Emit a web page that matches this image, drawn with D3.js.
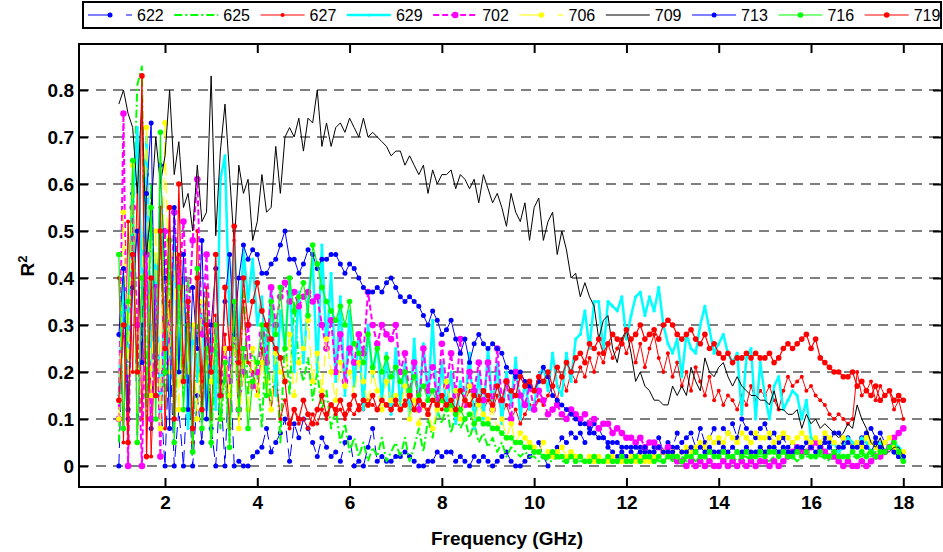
<!DOCTYPE html>
<html>
<head>
<meta charset="utf-8">
<script src="https://cdn.jsdelivr.net/npm/d3@7"></script>
<style>
body { margin: 0; background: #fff; }
svg { display: block; font-family: Arial, "Liberation Sans", sans-serif; }
</style>
</head>
<body>
<div id="chart-area"></div>
<script>
// Frequency sweep: 1.0 .. 18.0 GHz in 0.1 GHz steps
const FREQ_START = 1.0;
const FREQ_STEP = 0.1;

// R^2, in hundredths (one value per frequency step)
const s622 = [0,35,10,58,5,30,62,8,40,15, 0,28,0,12,0,20,0,15,5,30, 8,0,18,0,25,0,1,0,0,2,
  3,4,8,3,5,7,10,1,9,6, 10,8,5,2,6,4,2,3,1,5, 6,0,1,0,4,8,1,2,1,1, 2,2,3,2,1,0,0,1,1,3,
  2,3,3,1,2,1,0,2,1,2, 1,0,1,2,3,1,0,0,1,2, 3,5,2,0,2,4,6,5,7,6, 7,5,7,9,8,6,4,3,2,3,
  2,3,2,4,3,5,4,6,3,5, 4,7,5,6,7,4,8,5,6,8, 5,8,7,9,6,10,8,7,6,8, 9,6,7,5,6,4,5,4,3,5,
  4,5,3,6,5,7,7,5,6,4, 5,6,7,8,6,7,5,4,3,2, 2];
const s625 = [5,40,15,50,81,85,10,60,20,52, 12,45,8,35,15,40,5,30,10,38, 4,28,8,20,5,35,10,40,15,25,
  20,8,30,12,25,5,28,15,35,22, 18,23,14,20,12,16,8,12,5,9, 3,6,2,5,1,4,2,6,1,3, 5,2,6,1,4,8,3,10,6,12,
  9,13,7,11,8,10,6,9,5,7, 4,6,3,5,2,4,3,2,3,2, 2,1,2,1,1,2,1,1,2,1, 1,1,2,1,1,1,2,1,1,1,
  1,2,1,1,2,1,2,1,1,2, 1,2,2,1,2,1,2,2,1,2, 2,1,2,2,1,2,2,1,2,2, 2,1,2,2,3,2,2,1,2,2,
  2,3,2,2,1,2,3,2,2,2, 2,2,3,2,3,2,3,4,3,2, 1];
const s627 = [40,5,52,20,60,10,45,2,30,55, 8,35,15,45,22,28,5,50,18,38, 10,32,18,28,8,48,15,35,22,20,
  15,25,18,12,20,10,14,8,12,9, 10,8,11,9,12,10,13,11,12,10, 12,11,13,12,14,13,12,14,13,12,
  13,12,14,13,12,15,13,12,14,13, 12,14,13,15,12,14,16,13,15,12, 14,12,15,11,13,10,12,9,11,13,
  12,14,13,15,17,14,19,16,20,18, 21,19,23,20,24,22,26,23,25,27, 24,27,22,26,21,25,28,23,20,24,
  19,22,17,20,16,21,18,15,19,14, 16,13,15,14,12,15,13,17,14,16, 15,17,14,12,16,19,17,18,19,16,
  17,15,14,13,11,10,11,10,9,10, 20,15,16,18,14,17,15,16,12,14, 10];
const s629 = [15,40,25,55,72,38,70,20,45,10, 35,15,48,22,40,8,30,18,35,12, 28,12,61,66,30,48,25,46,35,44,
  30,36,20,38,15,33,25,40,20,37, 22,35,44,20,47,25,41,18,36,15, 33,17,28,12,30,19,26,14,24,11,
  25,13,22,10,27,12,26,14,31,11, 22,12,20,9,18,13,24,8,20,10, 25,12,22,9,20,13,23,10,18,12,
  13,19,21,16,24,17,15,24,18,27, 28,33,25,35,35,24,35,34,33,36, 27,32,36,37,32,36,33,38,30,26,
  24,27,19,28,25,24,30,34,29,24, 26,28,24,22,24,11,23,25,10,22, 15,10,17,19,12,14,16,15,10,14,
  6,5,4,3,4,5,3,4,6,5, 4,6,5,3,4,5,3,4,5,4, 3];
const s702 = [10,75,0,55,30,0,45,10,38,2, 50,22,54,38,52,30,48,61,28,45, 22,30,15,25,18,28,12,20,30,17,
  20,28,22,38,30,36,39,35,37,34, 36,37,35,36,30,25,31,20,28,18, 25,22,28,24,37,30,26,30,28,27,
  30,20,24,15,22,12,25,16,21,14, 26,17,24,15,27,13,20,16,22,14, 22,12,25,14,18,10,20,15,13,17,
  12,16,14,11,12,13,11,10,12,11, 10,11,9,10,8,9,9,7,8,7, 6,6,5,6,4,5,5,4,3,4,
  2,1,1,0,1,0,1,0,1,0, 0,1,0,1,0,1,0,1,0,1, 1,0,1,0,1,2,3,4,3,3,
  4,5,4,3,2,2,1,0,1,0, 0,1,0,1,2,2,3,4,6,7, 8];
const s706 = [10,54,20,64,5,40,72,15,50,8, 73,20,45,12,38,20,30,10,35,22, 18,30,10,25,15,28,8,22,12,25,
  15,22,18,12,24,20,18,28,15,22, 25,31,18,24,16,27,20,14,22,17, 20,15,22,18,13,20,16,12,18,14,
  15,12,17,10,14,9,13,11,8,12, 14,18,12,16,10,14,17,9,13,11, 10,12,8,10,6,9,5,7,6,5,
  4,3,5,3,2,3,4,2,3,2, 2,1,2,1,2,1,1,2,1,1, 1,2,1,2,1,1,2,2,3,2,
  3,2,3,4,3,4,5,4,6,5, 6,5,7,6,5,7,6,5,7,6, 6,7,5,6,7,6,5,6,7,6,
  5,6,5,7,6,5,4,6,5,4, 5,4,6,5,4,3,5,6,4,3, 3];
const s709 = [77,80,75,72,58,78,45,55,70,60, 66,80,62,69,55,58,50,64,52,54, 83,49,67,77,62,47,64,58,61,48,
  52,62,54,55,68,58,70,72,70,74, 67,74,73,80,68,73,68,72,73,71, 74,72,70,74,70,71,70,69,68,66,
  67,67,64,66,64,62,64,58,63,60, 62,62,63,59,62,61,59,61,56,62, 59,56,58,55,51,58,54,52,56,48,
  55,57,48,52,54,45,50,46,40,41, 36,39,36,34,27,31,32,25,22,27, 29,24,18,20,17,16,14,14,13,13,
  17,15,17,15,21,18,16,23,20,19, 21,22,19,17,19,17,16,15,15,14, 14,13,16,12,12,11,11,12,8,11,
  9,10,8,9,8,7,6,7,9,8, 13,10,8,5,4,6,3,3,4,4, 2];
const s713 = [28,42,12,38,50,22,58,73,15,64, 40,8,55,20,45,12,38,25,48,10, 30,42,18,35,45,28,40,47,44,46,
  45,41,41,43,44,47,50,44,44,41, 43,46,45,42,44,44,45,45,43,41, 43,42,40,38,37,37,38,37,39,40,
  38,36,35,36,35,34,32,30,33,31, 28,29,31,27,24,27,22,26,28,26, 25,26,25,24,21,20,19,20,18,17,
  16,18,21,19,15,14,13,12,11,10, 9,9,8,7,6,6,5,5,5,4, 4,4,4,3,4,3,3,4,3,3,
  3,4,3,3,4,3,4,3,4,3, 3,4,3,4,3,3,4,3,3,4, 3,4,4,3,4,3,3,4,4,3,
  4,3,4,5,4,3,4,4,5,4, 4,5,4,3,5,4,3,4,3,2, 2];
const s716 = [45,8,35,65,5,40,15,55,10,71, 20,48,5,38,12,30,3,42,8,25, 5,30,10,22,4,35,12,25,8,18,
  22,30,15,35,28,38,25,40,33,36, 39,32,47,43,38,35,33,31,34,30, 35,26,24,22,28,21,25,20,23,19,
  21,18,20,16,19,15,17,14,16,13, 14,12,13,11,12,10,11,9,10,9, 9,8,8,7,6,6,5,5,4,4,
  3,3,2,2,3,2,2,1,2,1, 2,1,1,2,1,1,2,1,1,2, 1,1,2,1,2,2,1,2,1,2,
  2,2,1,2,2,3,2,2,3,2, 2,3,2,2,3,2,3,2,2,3, 2,3,3,2,3,2,2,3,2,3,
  2,2,3,2,2,3,2,2,2,3, 2,3,2,3,2,3,3,4,5,3, 1];
const s719 = [14,30,5,45,20,83,2,40,15,50, 25,55,10,60,18,35,8,40,12,30, 20,45,15,38,25,51,22,40,30,35,
  39,33,30,27,25,23,18,9,12,10, 14,11,9,12,15,11,13,12,14,11, 13,15,12,14,13,15,12,14,13,12,
  14,12,13,15,12,14,13,11,14,13, 15,13,14,12,16,14,13,15,14,16, 15,13,17,14,18,16,15,19,17,18,
  16,19,18,20,17,21,19,22,20,23, 24,22,26,25,27,24,26,28,27,26, 29,27,28,30,27,28,29,27,30,31,
  30,28,27,28,29,27,26,28,25,26, 24,23,24,22,23,23,24,23,24,23, 23,24,22,23,25,26,25,26,27,28,
  25,27,23,22,21,20,20,19,19,20, 17,18,16,15,17,14,15,16,14,15, 14];

const SERIES_NAMES = ['622', '625', '627', '629', '702', '706', '709', '713', '716', '719'];
const SERIES_VALUES = [s622, s625, s627, s629, s702, s706, s709, s713, s716, s719];
const X_TICKS = [2, 4, 6, 8, 10, 12, 14, 16, 18];
const Y_TICKS = [0, 0.1, 0.2, 0.3, 0.4, 0.5, 0.6, 0.7, 0.8];

// Styles
const STYLE = {
    '622': { color: '#0000ff', width: 1, dash: '12,6', r: 2.5 },
    '625': { color: '#00ff00', width: 2, dash: '8,3,2,3', r: 0 },
    '627': { color: '#ff0000', width: 1, dash: null, r: 2 },
    '629': { color: '#00ffff', width: 2.5, dash: null, r: 1.6 },
    '702': { color: '#ff00ff', width: 2, dash: '6,3', r: 3.3 },
    '706': { color: '#ffff00', width: 1.2, dash: '12,6', r: 2.8 },
    '709': { color: '#000000', width: 1, dash: null, r: 0 },
    '713': { color: '#0000ff', width: 1, dash: null, r: 2.5 },
    '716': { color: '#00ff00', width: 1.2, dash: null, r: 2.8 },
    '719': { color: '#ff0000', width: 1.2, dash: null, r: 2.8 }
};

const W = 943, H = 552;
const FRAME = { LEFT: 79, RIGHT: 942, TOP: 44, BOTTOM: 487 };
const FONT_BOLD = 'font-weight: bold; font-size: 19px;';

const svg = d3.select('#chart-area')
    .append('svg')
    .attr('width', W)
    .attr('height', H);

const x = d3.scaleLinear().domain([2, 18]).range([165, 903.3]);
const y = d3.scaleLinear().domain([0, 0.8]).range([466, 90]);

// Gridlines
svg.append('g')
    .selectAll('line')
    .data(Y_TICKS)
    .enter().append('line')
    .attr('x1', FRAME.LEFT)
    .attr('x2', FRAME.RIGHT)
    .attr('y1', d => y(d))
    .attr('y2', d => y(d))
    .attr('stroke', '#555')
    .attr('stroke-width', 1.3)
    .attr('stroke-dasharray', '10,7');

svg.append('clipPath').attr('id', 'plot-clip')
    .append('rect')
    .attr('x', FRAME.LEFT).attr('y', FRAME.TOP)
    .attr('width', FRAME.RIGHT - FRAME.LEFT)
    .attr('height', FRAME.BOTTOM - FRAME.TOP);

const plot = svg.append('g').attr('clip-path', 'url(#plot-clip)');

const line = d3.line()
    .x(d => x(d.f))
    .y(d => y(d.v));

SERIES_NAMES.forEach((name, k) => {
    const st = STYLE[name];
    const data = SERIES_VALUES[k].map((v, i) => ({ f: FREQ_START + i * FREQ_STEP, v: v / 100 }));
    const g = plot.append('g');

    g.append('path')
        .datum(data)
        .attr('d', line)
        .attr('fill', 'none')
        .attr('stroke', st.color)
        .attr('stroke-width', st.width)
        .attr('stroke-linejoin', 'round')
        .attr('stroke-dasharray', st.dash);

    if (st.r > 0) {
        g.selectAll('circle')
            .data(data)
            .enter().append('circle')
            .attr('cx', d => x(d.f))
            .attr('cy', d => y(d.v))
            .attr('r', st.r)
            .attr('fill', st.color);
    }
});

// Axes (inward ticks on all four sides)
const xBottom = svg.append('g')
    .attr('transform', `translate(0, ${FRAME.BOTTOM})`)
    .call(d3.axisBottom(x).tickValues(X_TICKS).tickSize(-9).tickPadding(9));
const xTop = svg.append('g')
    .attr('transform', `translate(0, ${FRAME.TOP})`)
    .call(d3.axisTop(x).tickValues(X_TICKS).tickSize(-9).tickFormat(''));
const yLeft = svg.append('g')
    .attr('transform', `translate(${FRAME.LEFT}, 0)`)
    .call(d3.axisLeft(y).tickValues(Y_TICKS).tickSize(-9).tickPadding(5)
        .tickFormat(d => d === 0 ? '0' : d3.format('.1f')(d)));
const yRight = svg.append('g')
    .attr('transform', `translate(${FRAME.RIGHT}, 0)`)
    .call(d3.axisRight(y).tickValues(Y_TICKS).tickSize(-9).tickFormat(''));

[xBottom, xTop, yLeft, yRight].forEach(a => {
    a.select('.domain').remove();
    a.selectAll('line').attr('stroke', '#000').attr('stroke-width', 2);
    a.selectAll('text')
        .attr('fill', '#000')
        .attr('style', FONT_BOLD + ' font-family: Arial, "Liberation Sans", sans-serif;');
});

svg.append('rect')
    .attr('x', FRAME.LEFT).attr('y', FRAME.TOP)
    .attr('width', FRAME.RIGHT - FRAME.LEFT)
    .attr('height', FRAME.BOTTOM - FRAME.TOP)
    .attr('fill', 'none')
    .attr('stroke', '#000')
    .attr('stroke-width', 2);

// Axis titles
svg.append('text')
    .attr('x', 507).attr('y', 545)
    .attr('text-anchor', 'middle')
    .attr('style', FONT_BOLD)
    .text('Frequency (GHz)');

const yTitle = svg.append('text')
    .attr('transform', 'translate(34, 266) rotate(-90)')
    .attr('text-anchor', 'middle')
    .attr('style', FONT_BOLD);
yTitle.append('tspan').text('R');
yTitle.append('tspan').attr('dy', -7).attr('style', 'font-size: 13px;').text('2');

// Legend
const legend = svg.append('g');
legend.append('rect')
    .attr('x', 83).attr('y', 2)
    .attr('width', 858).attr('height', 26)
    .attr('fill', '#fff')
    .attr('stroke', '#000')
    .attr('stroke-width', 2);

SERIES_NAMES.forEach((name, i) => {
    const st = STYLE[name];
    const x0 = 88 + i * 86.3;
    const item = legend.append('g');
    item.append('line')
        .attr('x1', x0).attr('x2', x0 + 44)
        .attr('y1', 15).attr('y2', 15)
        .attr('stroke', st.color)
        .attr('stroke-width', st.width)
        .attr('stroke-dasharray', st.dash ? (st.dash === '12,6' ? '24,14' : st.dash) : null);
    if (st.r > 0) {
        item.append('circle')
            .attr('cx', x0 + 22).attr('cy', 15)
            .attr('r', st.r)
            .attr('fill', st.color);
    }
    item.append('text')
        .attr('x', x0 + 49).attr('y', 21)
        .attr('style', 'font-size: 16px;')
        .text(name);
});
</script>
</body>
</html>
